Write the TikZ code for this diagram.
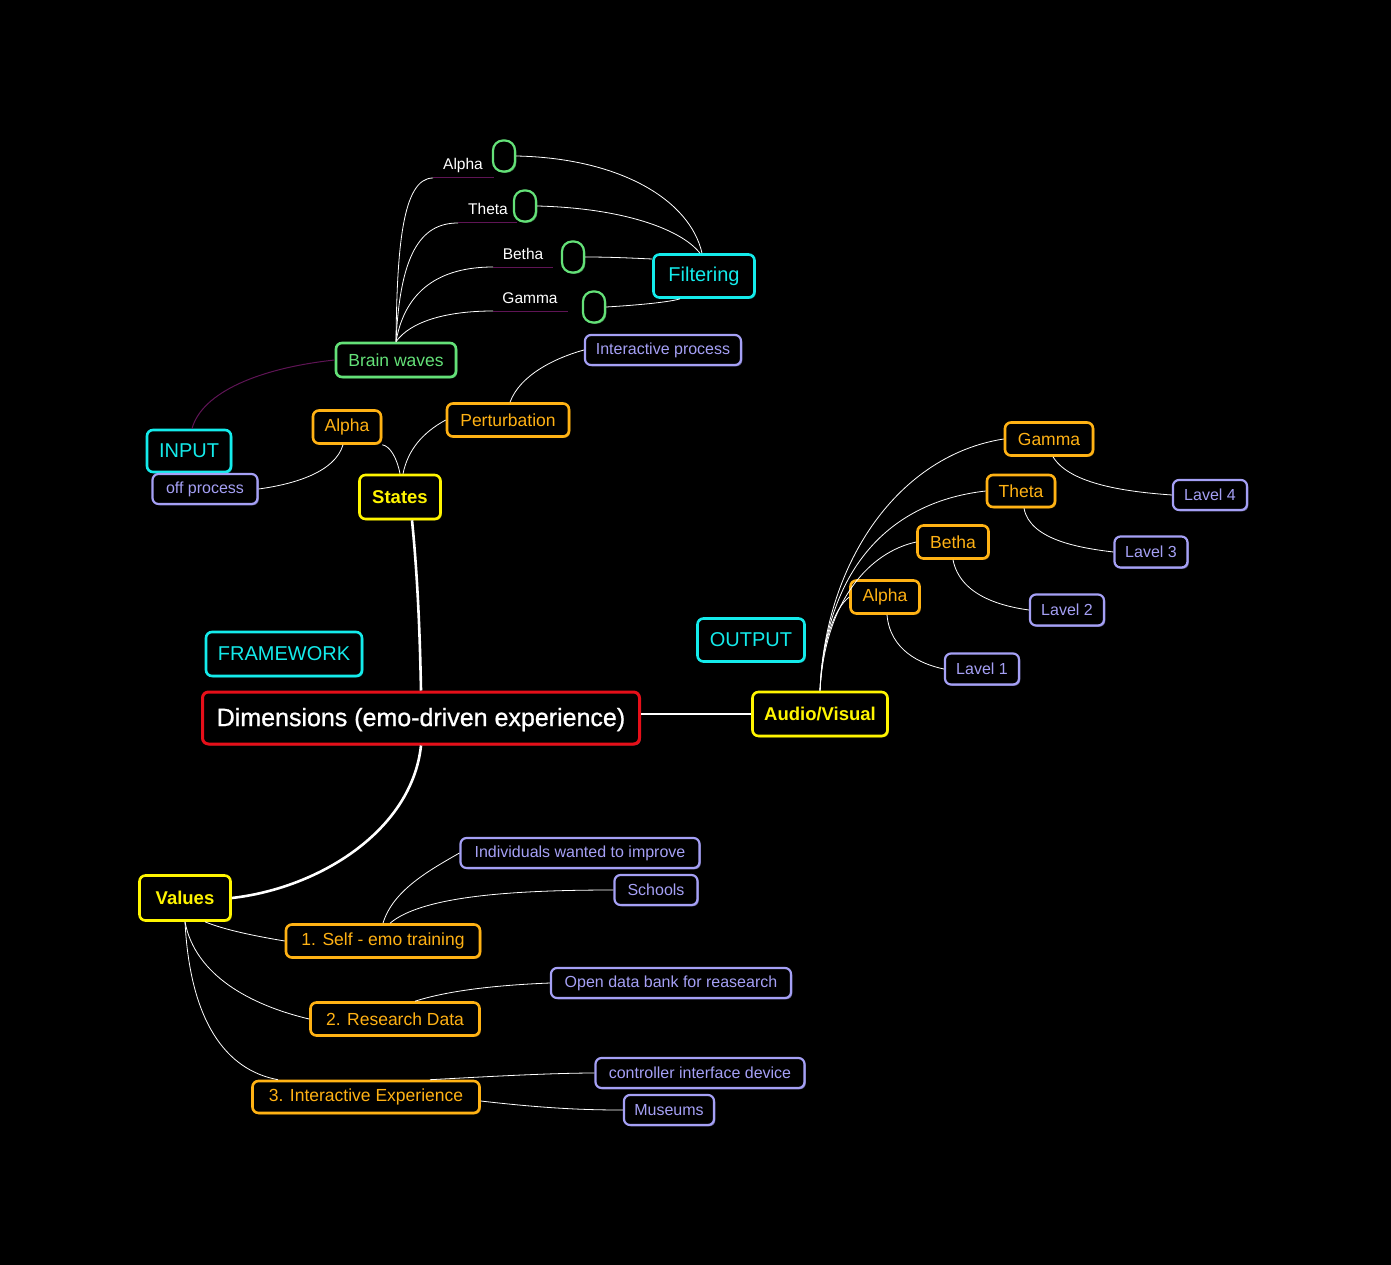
\documentclass[tikz,border=0pt]{standalone}
\usepackage{fontspec}
\setmainfont{Liberation Sans}
\newfontface\dimfont{Liberation Sans}[FakeBold=0.9]
\usetikzlibrary{shadows}
\definecolor{cyanB}{RGB}{20,235,235}
\definecolor{yelB}{RGB}{255,245,0}
\definecolor{oraB}{RGB}{255,178,20}
\definecolor{lavB}{RGB}{165,160,245}
\definecolor{grnB}{RGB}{100,225,120}
\definecolor{redB}{RGB}{230,15,25}
\definecolor{purL}{RGB}{95,20,85}
\tikzset{
  base/.style={draw, rounded corners=6pt, line width=2.6pt, fill=black, inner sep=0pt},
  glow/.style={drop shadow={shadow xshift=1.3pt, shadow yshift=-1.3pt, fill=#1, opacity=0.55}},
  cybox/.style={base, draw=cyanB, text=cyanB, glow=cyanB, font=\fontsize{20}{22}\selectfont},
  yebox/.style={base, draw=yelB, text=yelB, glow=yelB, font=\fontsize{18.5}{20}\selectfont\bfseries},
  orbox/.style={base, draw=oraB, text=oraB, glow=oraB, font=\fontsize{17.5}{20}\selectfont},
  lvbox/.style={base, draw=lavB, text=lavB, glow=lavB, line width=2.2pt, font=\fontsize{16}{18}\selectfont},
  gnbox/.style={base, draw=grnB, text=grnB, glow=grnB, font=\fontsize{17.5}{20}\selectfont},
  pill/.style={draw=grnB, line width=2.2pt, rounded corners=10pt, fill=black, glow=grnB, minimum width=22pt, minimum height=31pt, inner sep=0pt},
  wlab/.style={text=white, inner sep=0pt, font=\fontsize{15.5}{17}\selectfont},
  conn/.style={draw=white, line width=0.8pt},
  thick conn/.style={draw=white, line width=2.6pt},
  ul/.style={draw=purL, line width=1pt},
}
\begin{document}
\begin{tikzpicture}[x=1pt,y=-1pt]
\fill[black] (0,0) rectangle (1391,1265);
\useasboundingbox (0,0) rectangle (1391,1265);

% ---- nodes ----
\node[base, draw=redB, text=white, glow={redB!60!white}, font=\fontsize{25}{28}\dimfont, line width=3pt, minimum width=437, minimum height=52, text depth=2pt] (dim) at (421,718) {Dimensions (emo-driven experience)};
\node[cybox, minimum width=156, minimum height=44] (frame) at (284,654) {FRAMEWORK};
\node[cybox, minimum width=107, minimum height=43] (output) at (751,640) {OUTPUT};
\node[cybox, minimum width=84, minimum height=42] (input) at (189,451) {INPUT};
\node[cybox, minimum width=101, minimum height=43] (filt) at (704,276) {Filtering};

\node[yebox, minimum width=81, minimum height=44] (states) at (400,497) {States};
\node[yebox, minimum width=135, minimum height=44] (av) at (820,714) {Audio/Visual};
\node[yebox, minimum width=91, minimum height=45] (values) at (185,898) {Values};

\node[gnbox, minimum width=120, minimum height=34] (brain) at (396,360) {Brain waves};

\node[orbox, minimum width=68, minimum height=33] (salpha) at (347,427) {Alpha};
\node[orbox, minimum width=122, minimum height=33] (pert) at (508,420) {Perturbation};
\node[lvbox, minimum width=156, minimum height=30] (inter) at (663,350) {Interactive process};
\node[lvbox, minimum width=105, minimum height=30] (off) at (205,489) {off process};

% brain wave pills and labels
\node[pill] (pa) at (504,156) {};
\node[pill] (pt) at (525,206) {};
\node[pill] (pb) at (573,257) {};
\node[pill] (pg) at (594,307) {};
\node[wlab] (la) at (463,165) {Alpha};
\node[wlab] (lt) at (488,209) {Theta};
\node[wlab] (lb) at (523,254) {Betha};
\node[wlab] (lg) at (530,298) {Gamma};
\coordinate (ua1) at (433,178); \coordinate (ua2) at (494,178);
\coordinate (ut1) at (458,223); \coordinate (ut2) at (517,223);
\coordinate (ub1) at (493,267); \coordinate (ub2) at (553,267);
\coordinate (ug1) at (493,311); \coordinate (ug2) at (568,311);

% output branch
\node[orbox, minimum width=88, minimum height=33] (ogam) at (1049,439) {Gamma};
\node[orbox, minimum width=68, minimum height=32] (othe) at (1021,491) {Theta};
\node[orbox, minimum width=71, minimum height=33] (obet) at (953,542) {Betha};
\node[orbox, minimum width=69, minimum height=33] (oalp) at (885,597) {Alpha};
\node[lvbox, minimum width=74, minimum height=30] (l4) at (1210,495) {Lavel 4};
\node[lvbox, minimum width=73, minimum height=31] (l3) at (1151,552) {Lavel 3};
\node[lvbox, minimum width=74, minimum height=31] (l2) at (1067,610) {Lavel 2};
\node[lvbox, minimum width=74, minimum height=31] (l1) at (982,669) {Lavel 1};

% values branch
\node[orbox, minimum width=194, minimum height=33] (self) at (383,941) {1. Self - emo training};
\node[orbox, minimum width=169, minimum height=33] (res) at (395,1019) {2. Research Data};
\node[orbox, minimum width=227, minimum height=32] (iexp) at (366,1097) {3. Interactive Experience};
\node[lvbox, minimum width=239, minimum height=30] (indiv) at (580,853) {Individuals wanted to improve};
\node[lvbox, minimum width=83, minimum height=30] (school) at (656,890) {Schools};
\node[lvbox, minimum width=240, minimum height=30] (open) at (671,983) {Open data bank for reasearch};
\node[lvbox, minimum width=209, minimum height=30] (ctrl) at (700,1073) {controller interface device};
\node[lvbox, minimum width=90, minimum height=30] (mus) at (669,1110) {Museums};

% ---- connectors ----
\coordinate (sb) at ([xshift=12pt]states.south);
\draw[thick conn] (sb) .. controls (418,580) and (420,640) .. (dim.north);
\draw[thick conn] ([yshift=4pt]dim.east) -- (av.west);
\draw[thick conn] (dim.south) .. controls (412,830) and (320,888) .. (values.east);

% states area
\draw[conn] (states.north) .. controls (397,458) and (390,446) .. (salpha.south east);
\draw[conn] ([xshift=3pt]states.north) .. controls (408,450) and (422,433) .. (pert.west);
\draw[conn] ([xshift=-4pt]salpha.south) .. controls (335,472) and (295,484) .. (off.east);
\draw[conn] ([xshift=2pt]pert.north) .. controls (520,375) and (555,358) .. (inter.west);
\draw[purL, line width=1pt] (brain.west) .. controls (260,368) and (202,392) .. ([xshift=3pt]input.north);

% brain waves
\draw[conn] (brain.north) .. controls (397,250) and (402,178) .. (ua1);
\draw[conn] (brain.north) .. controls (400,255) and (420,223) .. (ut1);
\draw[conn] (brain.north) .. controls (405,290) and (440,267) .. (ub1);
\draw[conn] (brain.north) .. controls (410,322) and (445,311) .. (ug1);
\draw[ul] (ua1) -- (ua2);
\draw[ul] (ut1) -- (ut2);
\draw[ul] (ub1) -- (ub2);
\draw[ul] (ug1) -- (ug2);
\draw[conn] (pa.east) .. controls (620,158) and (690,200) .. ([xshift=-2pt]filt.north);
\draw[conn] (pt.east) .. controls (620,208) and (680,228) .. ([xshift=-4pt]filt.north);
\draw[conn] (pb.east) .. controls (610,257) and (630,258) .. ([yshift=17pt]filt.west);
\draw[conn] (pg.east) .. controls (640,305) and (670,302) .. ([xshift=-24pt]filt.south);

% output branch
\draw[conn] (av.north) .. controls (825,560) and (900,455) .. (ogam.west);
\draw[conn] (av.north) .. controls (825,580) and (880,503) .. (othe.west);
\draw[conn] (av.north) .. controls (825,600) and (870,552) .. (obet.west);
\draw[conn] (av.north) .. controls (822,640) and (835,608) .. (oalp.west);
\draw[conn] ([xshift=4pt]ogam.south) .. controls (1070,485) and (1130,492) .. (l4.west);
\draw[conn] ([xshift=3pt]othe.south) .. controls (1030,540) and (1080,548) .. (l3.west);
\draw[conn] (obet.south) .. controls (960,595) and (1000,606) .. (l2.west);
\draw[conn] ([xshift=2pt]oalp.south) .. controls (890,650) and (920,664) .. (l1.west);

% values branch
\draw[conn] ([xshift=20pt]values.south) .. controls (225,930) and (255,936) .. (self.west);
\draw[conn] (values.south) .. controls (195,975) and (250,1005) .. (res.west);
\draw[conn] (values.south) .. controls (190,1020) and (225,1070) .. ([xshift=-88pt]iexp.north);
\draw[conn] (self.north) .. controls (393,890) and (430,870) .. (indiv.west);
\draw[conn] ([xshift=7pt]self.north) .. controls (420,898) and (500,890) .. (school.west);
\draw[conn] ([xshift=20pt]res.north) .. controls (450,990) and (500,985) .. (open.west);
\draw[conn] ([xshift=64pt]iexp.north) .. controls (480,1077) and (550,1073) .. (ctrl.west);
\draw[conn] ([yshift=-4pt]iexp.east) .. controls (550,1109) and (590,1110) .. (mus.west);
\end{tikzpicture}
\end{document}
